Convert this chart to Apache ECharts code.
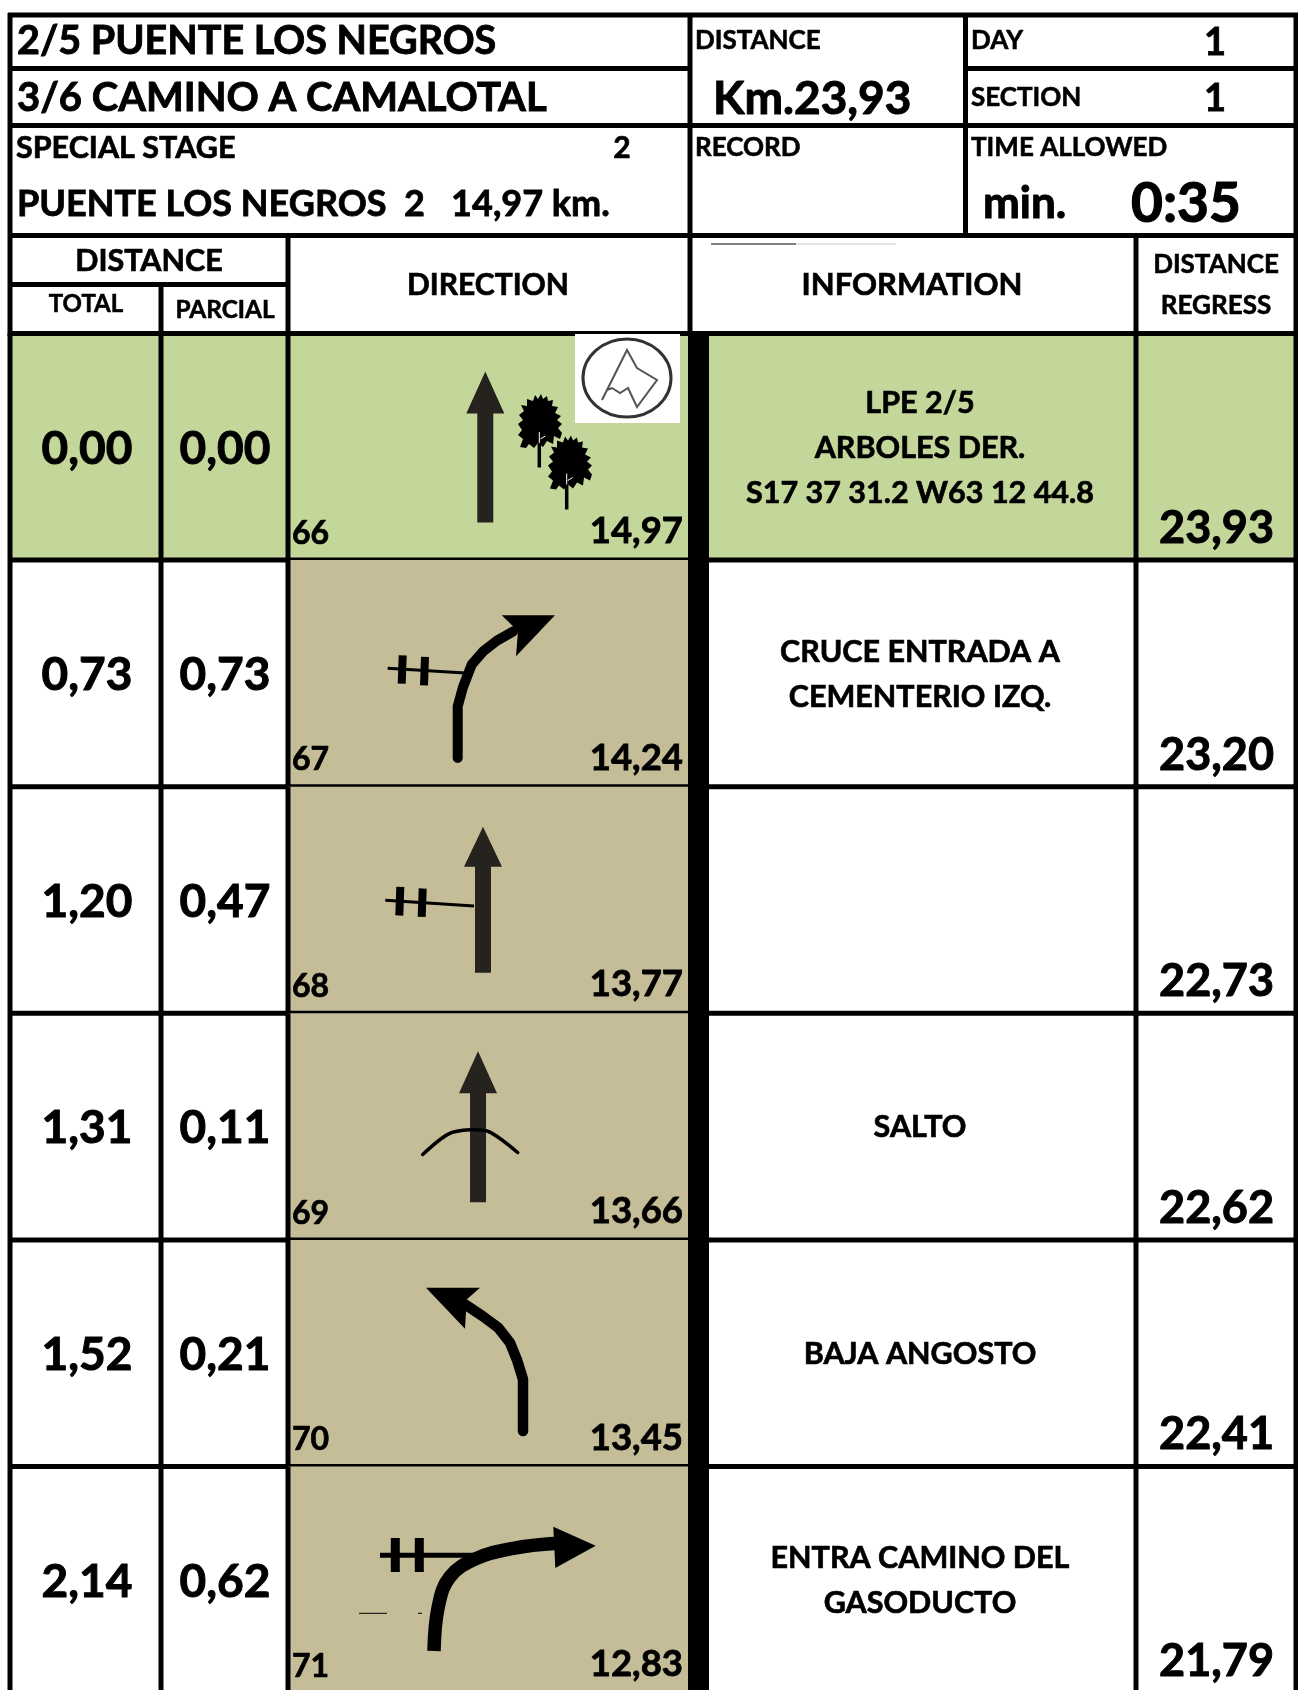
<!DOCTYPE html>
<html>
<head>
<meta charset="utf-8">
<style>
  html, body { margin: 0; padding: 0; background: #fff; overflow: hidden; }
  #page { width: 1298px; height: 1690px; overflow: hidden; }
  /* taller than the page: the last row runs off the sheet */
  #main { width: 1298px; height: 1700px; }
</style>
<script src="https://cdn.jsdelivr.net/npm/echarts@6/dist/echarts.min.js"></script>
</head>
<body>
<div id="page"><div id="main"></div></div>
<script>
// roadbook rows
const markerIds = ['66', '67', '68', '69', '70', '71'];
const totalKm = [0.00, 0.73, 1.20, 1.31, 1.52, 2.14];
const parcialKm = [0.00, 0.73, 0.47, 0.11, 0.21, 0.62];
const remainingKm = [14.97, 14.24, 13.77, 13.66, 13.45, 12.83];
const regressKm = [23.93, 23.20, 22.73, 22.62, 22.41, 21.79];
const infoLines = [
  ['LPE 2/5', 'ARBOLES DER.', 'S17 37 31.2 W63 12 44.8'],
  ['CRUCE ENTRADA A', 'CEMENTERIO IZQ.'],
  [],
  ['SALTO'],
  ['BAJA ANGOSTO'],
  ['ENTRA CAMINO DEL', 'GASODUCTO']
];
// header texts
const titleLines = ['2/5 PUENTE LOS NEGROS', '3/6 CAMINO A CAMALOTAL'];
const stageName = 'PUENTE LOS NEGROS  2   14,97 km.';
const stageNo = '2';
const totalDistance = 'Km.23,93';
const dayNo = '1';
const sectionNo = '1';
const timeAllowed = '0:35';

const FONT = 'Lato, sans-serif';
const INK = '#000';
const ARROW = '#26231e';
const GREEN = '#c4d79b';
const TAN = '#c4bd97';
const LINE = 5;

// column edges of the table body
const COL = { left: 10, total: 161, parcial: 288, bandL: 688, bandR: 709, info: 1136, right: 1298 };

const km = v => v.toFixed(2).replace('.', ',');

function label(x, y, text, size, align) {
  return {
    type: 'text',
    x: x,
    y: y + 1,
    style: {
      text: text,
      fill: INK,
      stroke: INK,
      lineWidth: size * 0.022,
      font: 'bold ' + size + 'px ' + FONT,
      align: align || 'left',
      verticalAlign: 'middle'
    }
  };
}
function seg(x1, y1, x2, y2, w, color, cap) {
  return {
    type: 'line',
    shape: { x1: x1, y1: y1, x2: x2, y2: y2 },
    style: { stroke: color || INK, lineWidth: w || LINE, lineCap: cap || 'butt' }
  };
}
function poly(points, color) {
  return { type: 'polygon', shape: { points: points }, style: { fill: color || INK } };
}
function curve(points, w, cap, smooth) {
  return {
    type: 'polyline',
    shape: { points: points, smooth: smooth || 0 },
    style: { stroke: INK, lineWidth: w, fill: null, lineCap: cap || 'butt', lineJoin: 'round' }
  };
}
function upArrow(cx, tip, base, bottom) {
  return [
    poly([[cx, tip], [cx + 19, base], [cx + 8, base], [cx + 8, bottom], [cx - 8, bottom], [cx - 8, base], [cx - 19, base]], ARROW)
  ];
}
function crossing(x1, y1, x2, y2, w, ticks, tw) {
  const out = [seg(x1, y1, x2, y2, w)];
  ticks.forEach(t => out.push(seg(t[0], t[1], t[2], t[3], tw)));
  return out;
}
// silhouette of a tree, offsets from the crown centre
const treeOutline = [
  [1, -27], [3, -22], [7, -25], [8, -20], [13, -21], [12, -15], [18, -14], [15, -8], [21, -5], [17, -1],
  [22, 3], [18, 7], [22, 12], [20, 18], [14, 15], [13, 23], [7, 20], [3, 26], [-2, 22], [-6, 27], [-11, 23],
  [-14, 27], [-20, 26], [-17, 18], [-22, 14], [-18, 9], [-22, 3], [-17, -1], [-21, -6], [-16, -10],
  [-19, -16], [-13, -15], [-13, -22], [-7, -20], [-5, -26], [-2, -22]
];
function tree(cx, cy, trunkX, trunkBottom) {
  return [
    poly(treeOutline.map(p => [cx + p[0], cy + p[1]])),
    seg(trunkX, cy + 20, trunkX, trunkBottom, 3.5),
    seg(trunkX, cy + 22, trunkX, cy + 11, 1, '#fff'),
    seg(trunkX + 1, cy + 18, trunkX + 6, cy + 15, 1, '#fff')
  ];
}

// symbol of each row, in px from the row's top edge
const glyphs = [
  () => [].concat(
    upArrow(485.3, 38, 80, 189),
    tree(540, 87.5, 539.3, 134),
    tree(570, 129, 566.7, 176)
  ),
  () => [].concat(
    crossing(387.7, 108.2, 465, 112.8, 3, [[402.7, 95.2, 401.7, 123.5], [425, 96.8, 424, 125.2]], 8),
    [curve([[457.7, 197.8], [457.7, 146.2], [463, 127], [471.7, 104.5], [483.3, 91.2], [497, 80.5], [513.3, 71.2]], 10, 'round'),
     poly([[501.7, 55.2], [555, 55.2], [516, 96.2], [518, 71]])]
  ),
  () => [].concat(
    upArrow(483, 40, 80, 186),
    crossing(385.3, 113.5, 474, 119.2, 3, [[400.3, 100.2, 399.3, 128.8], [422.7, 101.8, 421.7, 130.2]], 8)
  ),
  () => [].concat(
    upArrow(478, 38, 80, 189),
    [curve([[422.7, 141.2], [448.3, 120.8], [470, 116.5], [489.3, 118.5], [517.7, 139.2]], 3.5, 'round', 0.3)]
  ),
  () => [
    curve([[523, 191.2], [523, 139.5], [517, 120], [510, 102.8], [498.3, 87.8], [483, 76.5], [465, 64.5]], 10.5, 'round'),
    poly([[426, 47.8], [480, 47.8], [466.7, 59.5], [465, 88.8]])
  ],
  () => [].concat(
    crossing(380, 88.8, 475, 88.8, 5, [[395.3, 71.5, 395.3, 105.5], [419.3, 71.5, 419.3, 105.5]], 9),
    [curve([[434, 184.5], [438.3, 140.2], [450, 110.2], [476.7, 91.8], [513.3, 81.8], [556.7, 76.8]], 13.5, 'butt', 0.4),
     poly([[595.7, 79.2], [553.3, 60.2], [555.3, 101.5]]),
     seg(359, 146.8, 387, 146.8, 1),
     seg(418, 146.8, 422, 146.8, 1)]
  )
];

function renderRow(params, api) {
  const i = api.value(0);
  const c = api.coord([0, i]);
  const h = api.size([0, 1])[1];
  const top = c[1] - h / 2;
  const mid = c[1];
  const X = v => api.coord([v, i])[0];
  const kids = [];

  // coloured cells
  const rect = (x0, x1, color) => kids.push({
    type: 'rect',
    shape: { x: X(x0), y: top, width: X(x1) - X(x0), height: h },
    style: { fill: color }
  });
  if (i === 0) {
    rect(COL.left, COL.bandL, GREEN);
    rect(COL.bandR, COL.right, GREEN);
  } else {
    rect(COL.parcial, COL.bandL, TAN);
  }

  // symbol, shifted down to the row
  kids.push({ type: 'group', x: 0, y: top, children: glyphs[i]() });

  // numbers
  kids.push(label(X(87), mid + 1, km(api.value(1)), 46, 'center'));
  kids.push(label(X(225), mid + 1, km(api.value(2)), 46, 'center'));
  kids.push(label(X(292), top + 199, markerIds[i], 32));
  kids.push(label(X(683), top + 197, km(api.value(3)), 36.5, 'right'));
  kids.push(label(X(1274), top + 194, km(api.value(4)), 45, 'right'));

  // information lines
  const lines = infoLines[i];
  lines.forEach((t, k) => {
    kids.push(label(X(920), mid + (k - (lines.length - 1) / 2) * 45, t, 30.5, 'center'));
  });

  // rules
  kids.push(seg(X(8), top + h, X(1298), top + h));
  [COL.left, COL.total, COL.parcial, COL.info].forEach(v => {
    kids.push(seg(X(v), top, X(v), top + h));
  });
  kids.push(seg(X(1296), top, X(1296), top + h));
  kids.push({
    type: 'rect',
    shape: { x: X(COL.bandL), y: top, width: X(COL.bandR) - X(COL.bandL), height: h },
    style: { fill: INK }
  });
  return { type: 'group', children: kids };
}

// head of the sheet, fixed layout
function headerGraphics() {
  return [
    seg(8, 15, 1298, 15),
    seg(8, 68.5, 690, 68.5),
    seg(965, 68.5, 1298, 68.5),
    seg(8, 125.5, 1298, 125.5),
    seg(8, 235.5, 1298, 235.5),
    seg(8, 284.5, 288, 284.5),
    seg(8, 333.5, 1298, 333.5),
    seg(10, 13, 10, 336),
    seg(690, 13, 690, 336),
    seg(965.5, 13, 965.5, 236),
    seg(1296, 13, 1296, 336),
    seg(288, 235, 288, 336),
    seg(161, 284, 161, 336),
    seg(1136, 235, 1136, 336),
    seg(711, 244, 796, 244, 1),
    seg(796, 244, 896, 244, 1, '#ccc'),
    label(17, 40, titleLines[0], 39.5),
    label(17, 97, titleLines[1], 40),
    label(16, 147, 'SPECIAL STAGE', 30.5),
    label(622, 147, stageNo, 30, 'center'),
    label(17, 203, stageName, 36),
    label(695, 40, 'DISTANCE', 26),
    label(713, 98, totalDistance, 46),
    label(695, 147, 'RECORD', 26),
    label(971, 40, 'DAY', 26),
    label(1215, 42, dayNo, 38, 'center'),
    label(971, 97, 'SECTION', 26),
    label(1215, 98, sectionNo, 38, 'center'),
    label(971, 147, 'TIME ALLOWED', 26),
    label(983, 203, 'min.', 44),
    label(1131, 203, timeAllowed, 55),
    label(149, 260, 'DISTANCE', 30.5, 'center'),
    label(86, 303, 'TOTAL', 24, 'center'),
    label(225, 309, 'PARCIAL', 24.4, 'center'),
    label(488, 284, 'DIRECTION', 30, 'center'),
    label(912, 284, 'INFORMATION', 31, 'center'),
    label(1216, 264, 'DISTANCE', 26, 'center'),
    label(1216, 305, 'REGRESS', 26, 'center')
  ];
}

// start-of-stage stamp in the first row
function stampGraphics() {
  const inner = [[602, 400], [627, 350], [637, 368], [657, 380], [637, 407], [628, 388], [620, 393], [612, 388], [607, 390]];
  return [
    { type: 'rect', shape: { x: 575, y: 334, width: 105, height: 89 }, style: { fill: '#fff' } },
    { type: 'ellipse', shape: { cx: 627, cy: 378, rx: 44, ry: 39 }, style: { fill: null, stroke: '#333', lineWidth: 3 } },
    { type: 'polyline', shape: { points: inner }, style: { fill: null, stroke: '#555', lineWidth: 2 } }
  ];
}

const chart = echarts.init(document.getElementById('main'), null, { renderer: 'canvas' });

chart.setOption({
  backgroundColor: '#fff',
  animation: false,
  grid: { left: 0, width: 1298, top: 333.5, height: 1359.6 },
  xAxis: { type: 'value', min: 0, max: 1298, show: false },
  yAxis: { type: 'category', data: markerIds, inverse: true, show: false },
  graphic: { elements: headerGraphics().concat(stampGraphics()).map(e => Object.assign(e, { z: 100 })) },
  series: [{
    type: 'custom',
    clip: false,
    coordinateSystem: 'cartesian2d',
    encode: { x: 1, y: 0 },
    data: markerIds.map((id, i) => [i, totalKm[i], parcialKm[i], remainingKm[i], regressKm[i]]),
    renderItem: renderRow
  }]
});
</script>
</body>
</html>
